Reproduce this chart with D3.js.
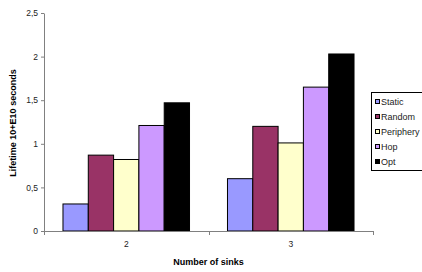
<!DOCTYPE html>
<html>
<head>
<meta charset="utf-8">
<script src="https://cdn.jsdelivr.net/npm/d3@7"></script>
<style>
body { margin: 0; background: #fff; }
svg { font-family: "Liberation Sans", Arial, sans-serif; }
</style>
</head>
<body>
<svg id="chart" width="422" height="272"></svg>
<script>
// data
var sinks = ["2", "3"];
var series = ["Static", "Random", "Periphery", "Hop", "Opt"];
var colors = ["#9999ff", "#993366", "#ffffcc", "#cc99ff", "#000000"];
var values = [
    [0.31, 0.60],   // Static
    [0.87, 1.20],   // Random
    [0.82, 1.01],   // Periphery
    [1.21, 1.65],   // Hop
    [1.47, 2.03]    // Opt
];
var yTicks = [0, 0.5, 1, 1.5, 2, 2.5];

var svg = d3.select("#chart");
var plotLeft = 44, plotRight = 373, plotTop = 13, plotBottom = 231;

var xScale = d3.scaleBand()
    .domain(sinks)
    .range([plotLeft, plotRight]);
var xInner = d3.scaleBand()
    .domain(series)
    .range([0, xScale.bandwidth()])
    .paddingOuter(0.75);
var yScale = d3.scaleLinear()
    .domain([0, 2.5])
    .range([plotBottom, plotTop]);

var fmt = function(d) { return String(d).replace(".", ","); };

// y axis
var yAxis = svg.append("g")
    .attr("transform", "translate(" + plotLeft + ",0)")
    .call(d3.axisLeft(yScale).tickValues(yTicks).tickFormat(fmt).tickSize(3).tickSizeOuter(0));
yAxis.select(".domain").attr("stroke", "#808080");
yAxis.selectAll(".tick line").attr("stroke", "#808080");
yAxis.selectAll("text").attr("font-size", 8.5).attr("fill", "#222").attr("x", -6)
    .attr("font-family", "Liberation Sans, Arial, sans-serif");

// bars
sinks.forEach(function(s, j) {
    series.forEach(function(name, i) {
        svg.append("rect")
            .attr("x", xScale(s) + xInner(name))
            .attr("y", yScale(values[i][j]))
            .attr("width", xInner.bandwidth())
            .attr("height", plotBottom - yScale(values[i][j]))
            .attr("fill", colors[i])
            .attr("stroke", "#000")
            .attr("stroke-width", 1);
    });
});

// x axis with ticks between categories
svg.append("line")
    .attr("x1", plotLeft).attr("x2", plotRight)
    .attr("y1", plotBottom + 0.5).attr("y2", plotBottom + 0.5)
    .attr("stroke", "#808080");
[plotLeft, xScale("3"), plotRight].forEach(function(x) {
    svg.append("line")
        .attr("x1", Math.round(x) + 0.5).attr("x2", Math.round(x) + 0.5)
        .attr("y1", plotBottom).attr("y2", plotBottom + 4)
        .attr("stroke", "#808080");
});
svg.selectAll(".xlab").data(sinks).enter().append("text")
    .attr("x", function(d) { return xScale(d) + xScale.bandwidth() / 2; })
    .attr("y", plotBottom + 16)
    .attr("text-anchor", "middle")
    .attr("font-size", 8.5)
    .attr("fill", "#222")
    .text(function(d) { return d; });

// axis titles
svg.append("text")
    .attr("x", (plotLeft + plotRight) / 2)
    .attr("y", 265)
    .attr("text-anchor", "middle")
    .attr("font-size", 9)
    .attr("font-weight", "bold")
    .text("Number of sinks");
svg.append("text")
    .attr("transform", "translate(16," + 123 + ") rotate(-90)")
    .attr("text-anchor", "middle")
    .attr("font-size", 9)
    .attr("font-weight", "bold")
    .text("Lifetime 10+E10 seconds");

// legend
var legend = svg.append("g").attr("transform", "translate(371,92)");
legend.append("rect")
    .attr("x", 0.5).attr("y", 0.5)
    .attr("width", 52).attr("height", 78)
    .attr("fill", "#fff")
    .attr("stroke", "#000");
series.forEach(function(name, i) {
    legend.append("rect")
        .attr("x", 4.5).attr("y", 7.5 + i * 15)
        .attr("width", 4).attr("height", 4)
        .attr("fill", colors[i])
        .attr("stroke", "#000");
    legend.append("text")
        .attr("x", 10).attr("y", 13 + i * 15)
        .attr("font-size", 9)
        .attr("fill", "#222")
        .text(name);
});
</script>
</body>
</html>
